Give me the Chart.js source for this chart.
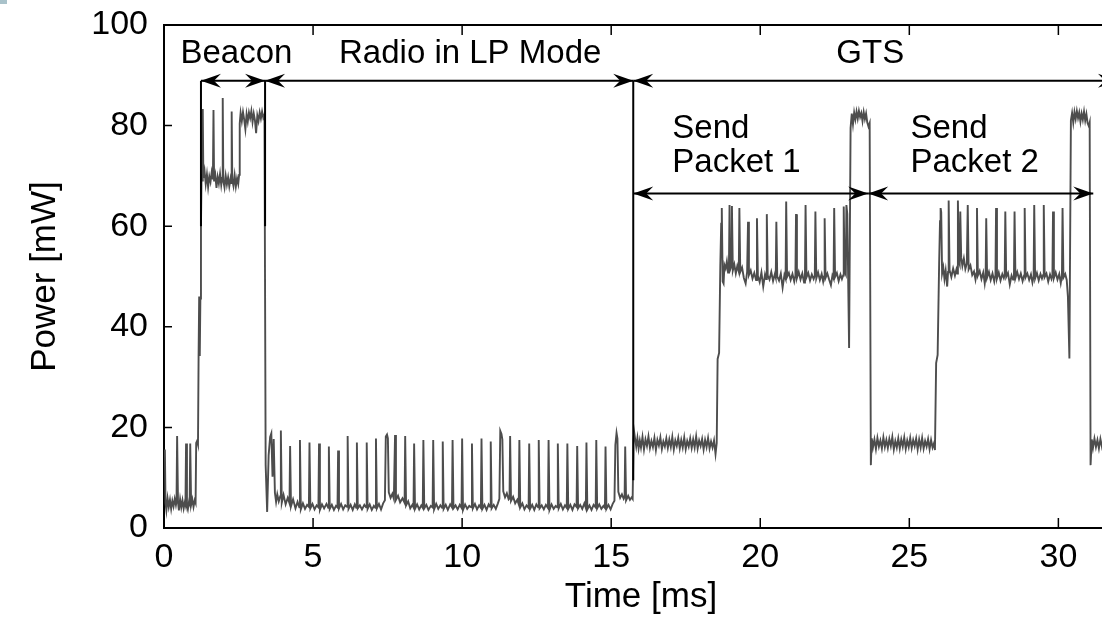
<!DOCTYPE html>
<html lang="en">
<head>
  <meta charset="UTF-8">
  <title>Power trace: Beacon / LP mode / GTS</title>
  <script src="https://cdn.jsdelivr.net/npm/chart.js"></script>
  <style>
    html, body { margin: 0; padding: 0; background: #fff; overflow: hidden; }
    #wrap { position: relative; width: 1102px; height: 635px; overflow: hidden; }
    #corner { position: absolute; left: 0; top: 0; width: 7px; height: 4px; background: #a9c2ca; z-index: 2; }
    canvas { display: block; }
  </style>
</head>
<body>
<div id="wrap">
  <div id="corner"></div>
  <canvas id="powerChart" width="1120" height="635"></canvas>
</div>

<script>
// time [ms], power [mW], one array per phase
const idleStart = [
  [0.00, 14.5],[0.03, 15.6],[0.05, 5.0],[0.08, 3.5],[0.12, 5.9],[0.16, 4.2],[0.20, 5.6],[0.24, 3.8],[0.28, 5.4],[0.32, 4.3],
  [0.36, 5.8],[0.40, 4.6],[0.42, 5.3],[0.44, 18.3],[0.47, 5.1],[0.50, 3.5],[0.54, 5.7],[0.58, 4.1],[0.62, 5.5],[0.66, 3.9],
  [0.70, 5.2],[0.72, 4.7],[0.74, 16.8],[0.77, 4.4],[0.80, 3.7],[0.84, 5.3],[0.86, 4.9],[0.88, 16.8],[0.91, 4.6],[0.95, 5.7],
  [0.99, 4.2],[1.03, 5.5],[1.06, 5.0],[1.08, 16.9],[1.11, 17.3],[1.14, 16.6],[1.16, 33.8],[1.18, 46.0],[1.20, 34.2],[1.22, 45.6],
  [1.24, 60.0],[1.26, 70.4]
];
const beacon = [
  [1.28, 69.1],[1.30, 83.3],[1.32, 69.6],[1.36, 71.0],[1.40, 68.4],[1.44, 70.3],[1.48, 67.8],[1.52, 69.9],[1.56, 68.8],[1.60, 70.7],
  [1.64, 69.3],[1.66, 83.1],[1.68, 68.9],[1.72, 70.2],[1.76, 67.6],[1.80, 69.8],[1.84, 68.5],[1.88, 70.4],[1.92, 68.2],[1.95, 69.6],
  [1.97, 85.5],[1.99, 69.0],[2.03, 67.7],[2.07, 70.0],[2.11, 68.3],[2.15, 69.7],[2.19, 67.9],[2.23, 69.4],[2.25, 68.6],[2.27, 82.8],
  [2.29, 69.2],[2.33, 68.0],[2.37, 70.1],[2.41, 67.9],[2.45, 69.5],[2.49, 68.4],[2.52, 70.2],[2.54, 80.4],[2.57, 82.5],[2.61, 80.9],
  [2.65, 82.7],[2.69, 81.2],[2.73, 79.3],[2.77, 82.3],[2.81, 80.8],[2.85, 82.6],[2.89, 81.5],[2.93, 82.9],[2.97, 80.7],[3.01, 82.4],
  [3.05, 81.1],[3.09, 78.5],[3.13, 82.0],[3.17, 80.9],[3.21, 82.6],[3.25, 81.4],[3.29, 82.8],[3.33, 81.6],[3.37, 82.2]
];
const lpMode = [
  [3.41, 12.5],[3.46, 3.2],[3.51, 14.5],[3.56, 18.1],[3.60, 18.8],[3.64, 10.2],[3.68, 17.7],[3.72, 7.0],[3.76, 5.2],[3.80, 6.7],[3.85, 5.3],[3.90, 6.3],
  [3.92, 19.4],[3.95, 5.0],[4.01, 6.6],[4.08, 4.7],[4.15, 6.0],[4.21, 4.9],
  [4.23, 16.3],[4.26, 4.3],[4.33, 5.7],[4.41, 3.9],[4.48, 5.2],[4.54, 4.1],
  [4.56, 17.5],[4.59, 3.7],[4.66, 4.9],[4.73, 3.8],[4.80, 4.6],[4.86, 4.2],
  [4.88, 17.0],[4.91, 3.9],[4.98, 4.8],[5.05, 3.7],[5.12, 4.5],[5.18, 4.1],
  [5.20, 16.8],[5.23, 3.6],[5.30, 4.7],[5.37, 3.9],[5.45, 4.8],[5.51, 4.0],
  [5.53, 16.2],[5.56, 3.8],[5.63, 4.6],[5.70, 3.6],[5.77, 4.4],[5.82, 4.1],
  [5.84, 15.4],[5.87, 3.9],[5.94, 4.8],[6.01, 3.7],[6.08, 4.5],[6.14, 4.2],
  [6.16, 18.3],[6.19, 3.8],[6.26, 4.6],[6.33, 3.6],[6.40, 4.7],[6.45, 4.0],
  [6.47, 17.0],[6.50, 3.9],[6.57, 4.5],[6.64, 3.7],[6.72, 4.6],[6.78, 4.1],
  [6.80, 17.0],[6.83, 3.8],[6.90, 4.7],[6.97, 3.6],[7.04, 4.4],[7.09, 4.0],
  [7.11, 17.8],[7.14, 3.9],[7.21, 4.8],[7.28, 3.7],[7.35, 4.9],[7.41, 5.5],
  [7.44, 18.2],[7.48, 18.6],[7.51, 17.8],[7.54, 7.1],[7.60, 6.0],[7.66, 6.8],[7.71, 5.8],
  [7.75, 18.5],[7.78, 5.6],[7.85, 6.4],[7.92, 5.1],[8.00, 5.9],[8.07, 5.0],
  [8.09, 18.3],[8.12, 4.5],[8.19, 5.3],[8.26, 3.9],[8.33, 4.6],[8.37, 4.1],
  [8.39, 16.8],[8.42, 3.8],[8.49, 4.7],[8.56, 3.7],[8.63, 4.5],[8.68, 4.0],
  [8.70, 17.5],[8.73, 3.9],[8.80, 4.6],[8.87, 3.6],[8.95, 4.4],[9.01, 4.1],
  [9.03, 17.5],[9.06, 3.7],[9.13, 4.8],[9.20, 3.8],[9.27, 4.5],[9.33, 4.0],
  [9.35, 17.2],[9.38, 3.8],[9.45, 4.6],[9.52, 3.6],[9.60, 4.7],[9.66, 4.1],
  [9.68, 17.5],[9.71, 3.9],[9.78, 4.5],[9.85, 3.7],[9.92, 4.6],[9.98, 4.0],
  [10.00, 17.8],[10.03, 3.6],[10.10, 4.7],[10.17, 3.8],[10.24, 4.4],[10.31, 4.1],
  [10.33, 16.8],[10.36, 3.9],[10.43, 4.8],[10.50, 3.7],[10.57, 4.5],[10.63, 4.0],
  [10.65, 17.8],[10.68, 3.8],[10.75, 4.6],[10.82, 3.6],[10.89, 4.7],[10.94, 4.2],
  [10.96, 17.2],[10.99, 3.9],[11.06, 4.6],[11.13, 3.8],[11.20, 4.9],[11.25, 5.8],
  [11.28, 19.3],[11.32, 18.7],[11.35, 17.6],[11.38, 7.3],[11.44, 6.1],[11.50, 6.9],[11.56, 5.7],
  [11.59, 5.9],[11.61, 18.3],[11.64, 5.4],[11.71, 6.2],[11.78, 4.9],[11.85, 5.6],[11.90, 4.7],
  [11.92, 17.5],[11.95, 4.1],[12.02, 4.9],[12.09, 3.7],[12.16, 4.5],[12.23, 4.0],
  [12.25, 16.8],[12.28, 3.8],[12.35, 4.6],[12.42, 3.6],[12.49, 4.7],[12.55, 4.1],
  [12.57, 17.5],[12.60, 3.9],[12.67, 4.5],[12.74, 3.7],[12.81, 4.6],[12.88, 4.0],
  [12.90, 17.5],[12.93, 3.6],[13.00, 4.7],[13.07, 3.8],[13.14, 4.4],[13.19, 4.1],
  [13.21, 16.8],[13.24, 3.9],[13.31, 4.8],[13.38, 3.7],[13.45, 4.5],[13.51, 4.0],
  [13.53, 16.8],[13.56, 3.8],[13.63, 4.6],[13.70, 3.6],[13.77, 4.7],[13.84, 4.2],
  [13.86, 16.3],[13.89, 3.9],[13.96, 4.6],[14.03, 3.8],[14.10, 4.9],[14.15, 4.0],
  [14.17, 17.0],[14.20, 3.7],[14.27, 4.5],[14.34, 3.6],[14.41, 4.6],[14.48, 4.1],
  [14.50, 17.5],[14.53, 3.9],[14.60, 4.7],[14.67, 3.8],[14.74, 4.4],[14.79, 4.0],
  [14.81, 16.2],[14.84, 3.8],[14.91, 4.6],[14.98, 3.7],[15.05, 4.8],[15.11, 5.4],
  [15.14, 16.5],[15.18, 18.9],[15.21, 17.8],[15.24, 7.2],[15.30, 6.0],[15.36, 6.7],[15.42, 5.8],[15.45, 6.2],
  [15.47, 16.2],[15.50, 5.5],[15.57, 6.4],[15.63, 5.6],[15.69, 6.1],[15.72, 5.8]
];
const gtsIdle1 = [
  [15.75, 17.5],[15.77, 19.1],[15.80, 17.8],[15.84, 16.2],[15.88, 17.9],[15.92, 15.8],[15.96, 17.4],[16.00, 16.0],[16.05, 18.1],[16.10, 15.6],
  [16.15, 17.6],[16.20, 16.3],[16.25, 18.2],[16.30, 15.9],[16.35, 17.3],[16.40, 16.1],[16.45, 17.9],[16.50, 15.5],[16.55, 17.5],[16.60, 16.4],
  [16.65, 18.0],[16.70, 15.7],[16.75, 17.2],[16.80, 16.2],[16.85, 17.8],[16.90, 15.9],[16.95, 17.6],[17.00, 16.1],[17.05, 18.1],[17.10, 15.6],
  [17.15, 17.4],[17.20, 16.3],[17.25, 17.9],[17.30, 15.8],[17.35, 17.5],[17.40, 16.0],[17.45, 18.0],[17.50, 15.7],[17.55, 17.3],[17.60, 16.2],
  [17.65, 17.8],[17.70, 15.9],[17.75, 17.6],[17.80, 16.0],[17.85, 18.2],[17.90, 15.8],[17.95, 17.4],[18.00, 16.3],[18.05, 17.7],[18.10, 15.6],
  [18.15, 17.5],[18.20, 16.1],[18.25, 17.9],[18.30, 15.8],[18.35, 17.2],[18.40, 16.0],[18.45, 17.4],[18.50, 14.7],[18.54, 16.9]
];
const packet1 = [
  [18.57, 33.6],[18.62, 34.8],[18.66, 52.0],[18.69, 60.5],[18.71, 63.6],[18.74, 49.0],[18.77, 48.6],[18.80, 52.3],[18.84, 51.6],[18.88, 53.0],[18.92, 50.8],[18.95, 52.2],
  [18.97, 64.2],[19.00, 51.5],[19.03, 52.0],[19.05, 64.0],[19.08, 51.2],[19.13, 52.4],[19.18, 50.6],[19.23, 52.1],[19.28, 51.0],
  [19.30, 63.6],[19.33, 50.9],[19.39, 51.8],[19.45, 49.7],[19.51, 48.6],[19.56, 50.9],
  [19.59, 60.9],[19.62, 50.3],[19.68, 51.2],[19.74, 49.6],[19.80, 50.7],[19.86, 49.3],
  [19.89, 61.6],[19.92, 50.1],[19.98, 48.9],[20.04, 50.8],[20.10, 48.0],[20.16, 50.4],[20.20, 49.5],
  [20.22, 62.4],[20.25, 50.2],[20.31, 49.4],[20.37, 50.9],[20.43, 49.1],[20.49, 50.5],[20.52, 49.8],
  [20.54, 60.9],[20.57, 50.0],[20.63, 49.2],[20.69, 50.6],[20.75, 47.8],[20.81, 50.3],[20.85, 49.6],
  [20.87, 64.9],[20.90, 49.9],[20.96, 50.7],[21.02, 49.3],[21.08, 50.5],[21.14, 49.0],[21.18, 50.2],
  [21.20, 62.4],[21.23, 49.7],[21.29, 50.9],[21.35, 49.4],[21.41, 50.6],[21.47, 48.8],[21.50, 50.1],
  [21.52, 64.2],[21.55, 49.8],[21.61, 50.7],[21.67, 49.2],[21.73, 50.4],[21.79, 49.5],[21.83, 50.2],
  [21.85, 62.9],[21.88, 49.6],[21.94, 50.8],[22.00, 49.3],[22.06, 50.5],[22.11, 49.0],[22.14, 50.0],
  [22.16, 61.6],[22.19, 49.7],[22.25, 50.6],[22.31, 49.4],[22.37, 48.3],[22.42, 50.2],[22.46, 49.6],
  [22.48, 63.6],[22.51, 49.9],[22.57, 50.7],[22.63, 49.1],[22.69, 50.4],[22.74, 49.5],[22.78, 50.2],
  [22.80, 63.9],[22.83, 51.0],[22.87, 50.4],[22.89, 64.2],[22.92, 62.4],[22.98, 35.8],[23.03, 79.5],
  [23.07, 82.4],[23.11, 80.3],[23.15, 82.6],[23.19, 81.2],[23.23, 82.8],[23.27, 81.4],[23.31, 82.9],[23.35, 81.7],[23.39, 82.5],
  [23.43, 80.9],[23.47, 82.7],[23.51, 81.3],[23.55, 82.4],[23.59, 80.6],[23.63, 79.8],[23.67, 80.5]
];
const gtsIdle2 = [
  [23.71, 12.5],[23.74, 17.8],[23.78, 16.0],[23.83, 17.6],[23.88, 15.7],[23.93, 17.9],[23.98, 16.2],[24.03, 17.4],[24.08, 15.8],[24.13, 18.0],
  [24.18, 16.1],[24.23, 17.5],[24.28, 15.9],[24.33, 17.7],[24.38, 16.3],[24.43, 18.1],[24.48, 15.6],[24.53, 17.3],[24.58, 16.0],[24.63, 17.8],
  [24.68, 15.8],[24.73, 17.6],[24.78, 16.2],[24.83, 18.0],[24.88, 15.7],[24.93, 17.4],[24.98, 16.1],[25.03, 17.9],[25.08, 15.9],[25.13, 17.5],
  [25.18, 16.3],[25.23, 17.8],[25.28, 15.6],[25.33, 17.6],[25.38, 16.0],[25.43, 17.9],[25.48, 15.8],[25.53, 17.3],[25.58, 16.2],[25.63, 17.7],
  [25.68, 15.7],[25.73, 17.5],[25.78, 16.0],[25.83, 16.9],[25.86, 15.5]
];
const packet2 = [
  [25.90, 32.8],[25.95, 34.4],[26.00, 52.5],[26.03, 61.0],[26.05, 63.6],[26.07, 62.8],[26.10, 50.6],[26.14, 51.8],[26.18, 49.5],[26.22, 51.2],[26.27, 48.0],[26.30, 50.9],
  [26.32, 65.1],[26.35, 51.3],[26.41, 49.9],[26.47, 51.6],[26.53, 50.2],[26.58, 51.4],[26.61, 50.6],
  [26.63, 65.1],[26.66, 53.0],[26.69, 52.4],[26.71, 62.9],[26.74, 53.8],[26.78, 52.1],[26.83, 53.6],[26.88, 51.5],[26.93, 52.6],
  [26.96, 64.2],[26.99, 51.4],[27.05, 52.2],[27.11, 50.3],[27.17, 51.0],[27.22, 49.4],[27.25, 50.6],
  [27.27, 63.6],[27.30, 50.2],[27.36, 51.1],[27.42, 49.5],[27.48, 50.8],[27.53, 48.6],[27.56, 50.0],
  [27.58, 61.6],[27.61, 49.8],[27.67, 50.9],[27.73, 49.3],[27.79, 50.6],[27.85, 49.0],[27.89, 50.3],
  [27.91, 63.6],[27.94, 49.6],[28.00, 50.8],[28.06, 49.2],[28.12, 50.5],[28.17, 49.7],[28.20, 50.4],
  [28.22, 62.9],[28.25, 49.9],[28.31, 50.7],[28.37, 48.4],[28.43, 50.2],[28.48, 49.4],[28.51, 50.1],
  [28.53, 62.9],[28.56, 49.7],[28.62, 50.9],[28.68, 49.5],[28.74, 50.6],[28.80, 49.1],[28.85, 50.2],
  [28.87, 63.6],[28.90, 49.8],[28.96, 50.6],[29.02, 49.3],[29.08, 50.4],[29.13, 48.8],[29.17, 50.0],
  [29.19, 64.2],[29.22, 49.6],[29.28, 50.7],[29.34, 49.2],[29.40, 50.5],[29.45, 49.6],[29.49, 50.3],
  [29.51, 64.2],[29.54, 49.9],[29.60, 50.6],[29.66, 49.0],[29.72, 50.4],[29.77, 49.5],[29.80, 50.1],
  [29.82, 62.9],[29.85, 49.7],[29.91, 50.8],[29.97, 49.4],[30.03, 50.5],[30.08, 48.7],[30.12, 50.2],
  [30.14, 63.6],[30.17, 49.8],[30.23, 50.5],[30.28, 49.3],[30.32, 46.0],[30.37, 33.7],[30.42, 81.0],
  [30.46, 82.5],[30.50, 80.6],[30.54, 82.7],[30.58, 81.3],[30.62, 82.9],[30.66, 81.5],[30.70, 82.6],[30.74, 80.8],[30.78, 82.4],
  [30.82, 81.2],[30.86, 82.8],[30.90, 81.0],[30.94, 82.3],[30.98, 80.5],[31.02, 79.9],[31.05, 80.6]
];
const gtsIdle3 = [
  [31.08, 12.5],[31.12, 17.6],[31.16, 15.9],[31.21, 17.8],[31.26, 16.1],[31.31, 17.5],[31.36, 15.8],[31.41, 17.7],[31.46, 16.2],[31.51, 17.4],[31.56, 16.0],[31.61, 17.6]
];

const xTicks = [0, 5, 10, 15, 20, 25, 30];
const yTicks = [0, 20, 40, 60, 80, 100];

// annotation layer (data units)
const phaseArrows = [
  { from: 1.24, to: 3.39, at: 88.9 },
  { from: 3.39, to: 15.74, at: 88.9 },
  { from: 15.74, to: 32.0, at: 88.9 },
  { from: 15.74, to: 23.62, at: 66.5 },
  { from: 23.62, to: 31.17, at: 66.5 }
];
const phaseMarkers = [
  { t: 1.24, top: 88.9, bottom: 60 },
  { t: 3.39, top: 88.9, bottom: 60 },
  { t: 15.74, top: 88.9, bottom: 9.5 }
];
const phaseLabels = [
  { text: "Beacon", t: 2.43, v: 92.4, align: "center" },
  { text: "Radio in LP Mode", t: 10.27, v: 92.4, align: "center" },
  { text: "GTS", t: 23.69, v: 92.4, align: "center" },
  { text: "Send", t: 17.05, v: 77.5, align: "left" },
  { text: "Packet 1", t: 17.05, v: 70.8, align: "left" },
  { text: "Send", t: 25.04, v: 77.5, align: "left" },
  { text: "Packet 2", t: 25.04, v: 70.8, align: "left" }
];

const trace = [].concat(idleStart, beacon, lpMode, gtsIdle1, packet1, gtsIdle2, packet2, gtsIdle3)
  .map(p => ({ x: p[0], y: p[1] }));

const FONT = "'Liberation Sans', Arial, Helvetica, sans-serif";

function arrowHead(ctx, x, y, dir) {
  // dir = +1 points right, -1 points left
  ctx.beginPath();
  ctx.moveTo(x, y);
  ctx.lineTo(x - dir * 20, y - 7);
  ctx.lineTo(x - dir * 13, y);
  ctx.lineTo(x - dir * 20, y + 7);
  ctx.closePath();
  ctx.fill();
}

// no extra room for the end labels, the frame sits where the reference has it
function pinBox(w, h) {
  return s => {
    if (w) s.width = w;
    if (h) s.height = h;
    s.paddingTop = 0; s.paddingBottom = 0;
    s.paddingLeft = 0; s.paddingRight = 0;
  };
}

const overlay = {
  id: "overlay",
  afterDraw(chart) {
    const ctx = chart.ctx;
    const xs = chart.scales.x, ys = chart.scales.y, area = chart.chartArea;
    ctx.save();

    // inward tick marks
    ctx.strokeStyle = "#000";
    ctx.lineWidth = 1.5;
    ctx.beginPath();
    xTicks.forEach(v => {
      const px = xs.getPixelForValue(v);
      ctx.moveTo(px, area.bottom); ctx.lineTo(px, area.bottom - 10);
      ctx.moveTo(px, area.top); ctx.lineTo(px, area.top + 10);
    });
    yTicks.forEach(v => {
      const py = ys.getPixelForValue(v);
      ctx.moveTo(area.left, py); ctx.lineTo(area.left + 8, py);
    });
    ctx.stroke();

    // phase markers and arrows
    ctx.lineWidth = 2;
    ctx.fillStyle = "#000";
    phaseMarkers.forEach(m => {
      const px = xs.getPixelForValue(m.t);
      ctx.beginPath();
      ctx.moveTo(px, ys.getPixelForValue(m.top));
      ctx.lineTo(px, ys.getPixelForValue(m.bottom));
      ctx.stroke();
    });
    phaseArrows.forEach(a => {
      const x1 = xs.getPixelForValue(a.from), x2 = xs.getPixelForValue(a.to);
      const py = ys.getPixelForValue(a.at);
      ctx.beginPath();
      ctx.moveTo(x1, py); ctx.lineTo(x2, py);
      ctx.stroke();
      arrowHead(ctx, x1, py, -1);
      arrowHead(ctx, x2, py, 1);
    });

    // phase labels
    ctx.font = "33px " + FONT;
    ctx.textBaseline = "alphabetic";
    phaseLabels.forEach(l => {
      ctx.textAlign = l.align;
      ctx.fillText(l.text, xs.getPixelForValue(l.t), ys.getPixelForValue(l.v));
    });
    ctx.restore();
  }
};

const ctx = document.getElementById("powerChart").getContext("2d");
new Chart(ctx, {
  type: "scatter",
  data: {
    datasets: [{
      label: "Power",
      data: trace,
      showLine: true,
      borderColor: "#4d4d4d",
      borderWidth: 1.9,
      pointRadius: 0,
      tension: 0
    }]
  },
  options: {
    responsive: false,
    animation: false,
    events: [],
    layout: { padding: { left: 0, right: 2, top: 0, bottom: 0 } },
    plugins: {
      legend: { display: false },
      tooltip: { enabled: false }
    },
    scales: {
      x: {
        type: "linear",
        position: "bottom",
        min: 0,
        max: 32,
        afterFit: pinBox(0, 107),
        grid: { display: false, drawTicks: false },
        border: { display: true, color: "#000", width: 2 },
        ticks: {
          stepSize: 5,
          includeBounds: false,
          padding: 9,
          color: "#000",
          font: { family: FONT, size: 34 }
        },
        title: {
          display: true,
          text: "Time [ms]",
          color: "#000",
          font: { family: FONT, size: 35 },
          padding: { top: 0, bottom: 17 }
        }
      },
      xTop: {
        type: "linear",
        position: "top",
        min: 0,
        max: 32,
        afterFit: pinBox(0, 25),
        grid: { display: false, drawTicks: false },
        border: { display: true, color: "#000", width: 2 },
        ticks: { display: false }
      },
      y: {
        type: "linear",
        position: "left",
        min: 0,
        max: 100,
        afterFit: pinBox(164, 0),
        grid: { display: false, drawTicks: false },
        border: { display: true, color: "#000", width: 2 },
        ticks: {
          stepSize: 20,
          padding: 16,
          color: "#000",
          font: { family: FONT, size: 34 }
        },
        title: {
          display: true,
          text: "Power [mW]",
          color: "#000",
          font: { family: FONT, size: 35 },
          padding: { top: 24, bottom: 0 }
        }
      }
    }
  },
  plugins: [overlay]
});
</script>
</body>
</html>
